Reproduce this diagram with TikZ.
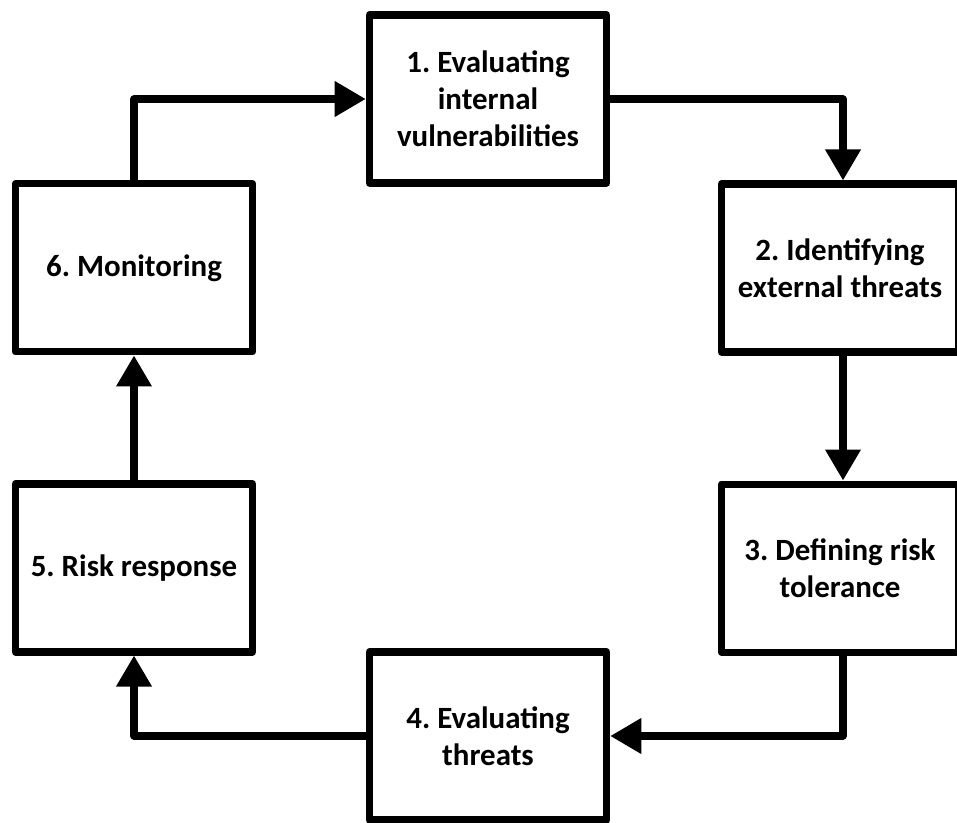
\documentclass[tikz,border=0pt]{standalone}
\usepackage{fontspec}
\setmainfont{Carlito}
\usetikzlibrary{arrows.meta,positioning}

\begin{document}
\frenchspacing
\begin{tikzpicture}[line width=4pt, line join=round,
      stepbox/.style={draw, fill=white, minimum width=4.75cm, minimum height=3.36cm,
        align=center, font=\fontsize{17.6}{21}\selectfont\bfseries},
      flow/.style={-{Triangle[length=0.62cm,width=0.68cm]}}]
    \useasboundingbox (0,0) rectangle (19.14,-16.46);
    \node (INTERNAL) [stepbox] at (9.76,-1.98) {1. Evaluating\\internal\\vulnerabilities};
    \node (EXTERNAL) [stepbox] at (16.8,-5.36) {2. Identifying\\external threats};
    \node (TOLERANCE) [stepbox, below=2.5cm of EXTERNAL] {3. Defining risk\\tolerance};
    \node (EVALTHREATS) [stepbox] at (9.76,-14.72) {4. Evaluating\\threats};
    \node (RESPONSE) [stepbox] at (2.68,-11.36) {5. Risk response};
    \node (MONITOR) [stepbox, above=2.5cm of RESPONSE] {6. Monitoring};
    \draw[flow] (MONITOR.north) |- (INTERNAL.west);
    \draw[flow] (INTERNAL.east) -| ([xshift=0.06cm]EXTERNAL.north);
    \draw[flow] ([xshift=0.06cm]EXTERNAL.south) -- ([xshift=0.06cm]TOLERANCE.north);
    \draw[flow] ([xshift=0.06cm]TOLERANCE.south) |- (EVALTHREATS.east);
    \draw[flow] (EVALTHREATS.west) -| (RESPONSE.south);
    \draw[flow] (RESPONSE.north) -- (MONITOR.south);
  \end{tikzpicture}
\end{document}
